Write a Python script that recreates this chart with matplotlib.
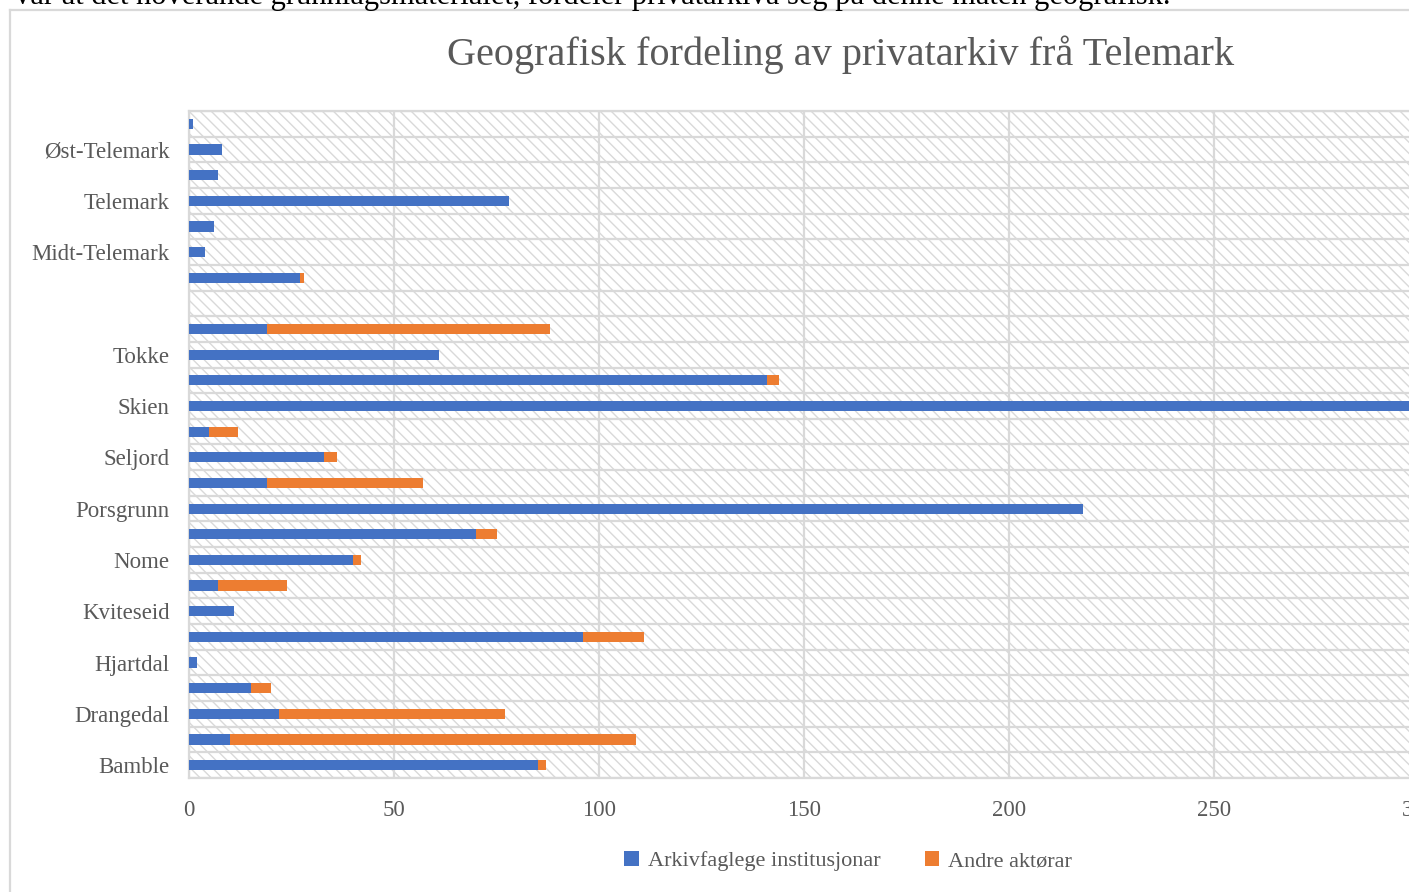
import numpy as np
import matplotlib
matplotlib.use('Agg')
import matplotlib.pyplot as plt
from matplotlib.patches import Rectangle, Patch
from matplotlib.lines import Line2D

# rows from bottom to top (as drawn in the chart)
places = ['Bamble', 'Bø', 'Drangedal', 'Fyresdal', 'Hjartdal', 'Kragerø',
          'Kviteseid', 'Nissedal', 'Nome', 'Notodden', 'Porsgrunn', 'Sauherad',
          'Seljord', 'Siljan', 'Skien', 'Tinn', 'Tokke', 'Vinje', '',
          'Grenland', 'Midt-Telemark', 'Nedre Telemark', 'Telemark',
          'Vest-Telemark', 'Øst-Telemark', 'Øvre Telemark']
arkiv = [85, 10, 22, 15, 2, 96, 11, 7, 40, 70, 218, 19,
         33, 5, 305, 141, 61, 19, 0,
         27, 4, 6, 78, 7, 8, 1]
andre = [2, 99, 55, 5, 0, 15, 0, 17, 2, 5, 0, 38,
         3, 7, 0, 3, 0, 69, 0,
         1, 0, 0, 0, 0, 0, 0]
xticks = [0, 50, 100, 150, 200, 250, 300]

title = 'Geografisk fordeling av privatarkiv frå Telemark'
series_names = ['Arkivfaglege institusjonar', 'Andre aktørar']
top_text = ('vår at det noverande grunnlagsmaterialet, fordeler '
            'privatarkiva seg på denne måten geografisk.')

BLUE = '#4472C4'
ORANGE = '#ED7D31'
GRID = '#D9D9D9'
TXT = '#595959'
SERIF = ['Liberation Serif', 'DejaVu Serif']

W, H = 1409, 892
fig = plt.figure(figsize=(W / 100, H / 100), dpi=100)
plt.rcParams['font.family'] = SERIF

# outer chart frame (cropped on the right and bottom)
fig.add_artist(Line2D([10 / W, 10 / W], [0, 1 - 10 / H], color=GRID, lw=1.6))
fig.add_artist(Line2D([10 / W, 1], [1 - 10 / H, 1 - 10 / H], color=GRID, lw=1.6))

# text from the page above, mostly cut off
fig.text(15 / W, 1 - 4 / H, top_text, fontsize=22, color='black',
         ha='left', va='baseline', family=SERIF)

ax = fig.add_axes([189 / W, 1 - 778 / H, 1230 / W, 667 / H])
ax.set_facecolor('white')
ax.add_patch(Rectangle((0, 0), 1, 1, transform=ax.transAxes, facecolor='white',
                       edgecolor=GRID, hatch='\\\\\\', lw=0, zorder=0))

y = np.arange(len(places))
ax.barh(y, arkiv, height=0.4, color=BLUE, zorder=3)
ax.barh(y, andre, left=arkiv, height=0.4, color=ORANGE, zorder=3)

ax.set_xlim(0, 300)
ax.set_ylim(-0.5, len(places) - 0.5)
ax.set_xticks(xticks)
ax.set_yticks(y[::2])
ax.set_yticklabels(places[::2])
ax.set_yticks(np.arange(-0.5, len(places)), minor=True)
ax.grid(which='minor', axis='y', color=GRID, lw=1.6, zorder=1)
ax.grid(which='major', axis='x', color=GRID, lw=1.6, zorder=1)
ax.grid(which='major', axis='y', visible=False)
ax.tick_params(axis='both', which='both', length=0, labelsize=16.5, labelcolor=TXT)
ax.tick_params(axis='x', pad=16)
ax.tick_params(axis='y', pad=14)
for lab in ax.get_xticklabels() + ax.get_yticklabels():
    lab.set_family(SERIF)
for s in ax.spines.values():
    s.set_color(GRID)
    s.set_linewidth(1.6)

fig.text(841 / W, 1 - 55 / H, title, fontsize=29, color=TXT,
         ha='center', va='center', family=SERIF)

handles = [Patch(facecolor=BLUE), Patch(facecolor=ORANGE)]
leg = fig.legend(handles, series_names, loc='center', ncol=2,
                 bbox_to_anchor=(848 / W, 1 - 861 / H), frameon=False,
                 handlelength=0.65, handleheight=0.65, handletextpad=0.4,
                 columnspacing=2.0, prop={'family': SERIF, 'size': 16})
for t in leg.get_texts():
    t.set_color(TXT)

fig.savefig('out.png', dpi=100)
